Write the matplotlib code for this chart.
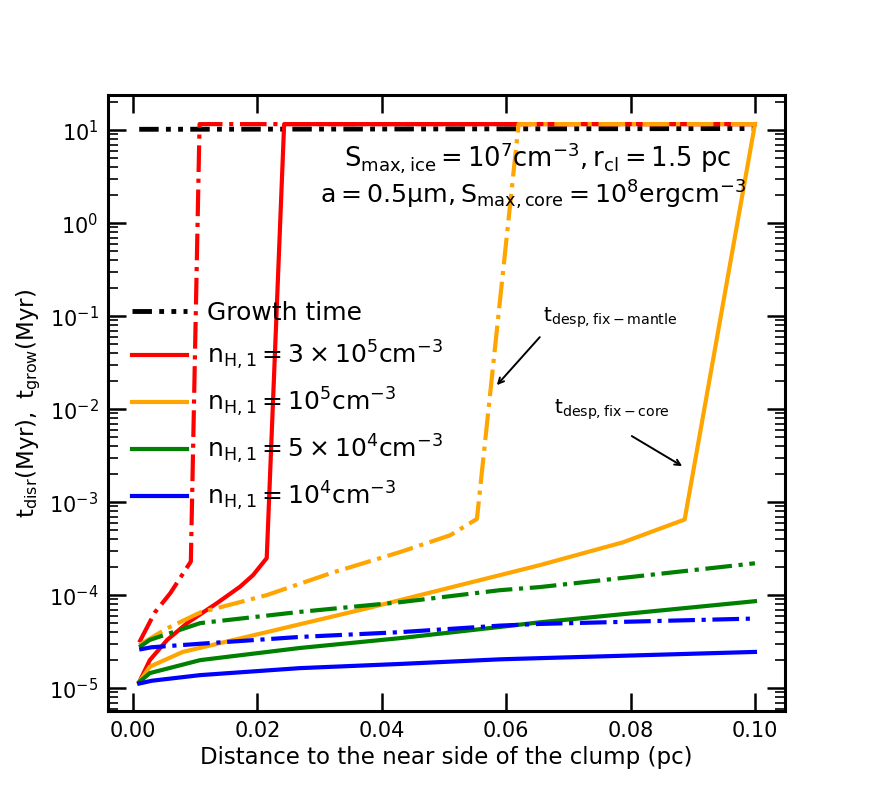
import matplotlib
matplotlib.use('Agg')
import matplotlib.pyplot as plt
import numpy as np

plt.rcParams['mathtext.default'] = 'regular'

# growth time
x_grow = [0.001, 0.1]
t_grow = [10.2, 10.4]

# n_H,1 = 3e5
x_red_mantle = [0.001, 0.0035, 0.006, 0.0093, 0.0107, 0.1]
t_red_mantle = [3.1e-5, 6.5e-5, 1.05e-4, 2.3e-4, 11.6, 11.6]
x_red_core = [0.001, 0.0027, 0.0055, 0.0087, 0.0135, 0.0172, 0.0193, 0.0215, 0.0243, 0.1]
t_red_core = [1.16e-5, 2.0e-5, 3.3e-5, 5.0e-5, 8.2e-5, 1.23e-4, 1.64e-4, 2.5e-4, 11.6, 11.6]

# n_H,1 = 1e5
x_orange_mantle = [0.001, 0.0055, 0.0108, 0.0215, 0.032, 0.0429, 0.051, 0.0553, 0.062, 0.1]
t_orange_mantle = [2.9e-5, 4.4e-5, 6.5e-5, 1.0e-4, 1.74e-4, 2.9e-4, 4.4e-4, 6.6e-4, 11.6, 11.6]
x_orange_core = [0.001, 0.0027, 0.008, 0.0215, 0.0376, 0.059, 0.0654, 0.0788, 0.0887, 0.1]
t_orange_core = [1.16e-5, 1.7e-5, 2.45e-5, 4.0e-5, 7.2e-5, 1.64e-4, 2.1e-4, 3.7e-4, 6.5e-4, 11.6]

# n_H,1 = 5e4
x_green = [0.001, 0.0027, 0.0108, 0.0268, 0.043, 0.059, 0.0654, 0.1]
t_green_mantle = [2.75e-5, 3.3e-5, 5.0e-5, 6.6e-5, 8.4e-5, 1.13e-4, 1.22e-4, 2.2e-4]
t_green_core = [1.16e-5, 1.45e-5, 2.0e-5, 2.7e-5, 3.45e-5, 4.55e-5, 5.1e-5, 8.6e-5]

# n_H,1 = 1e4
x_blue = [0.001, 0.003, 0.0108, 0.0268, 0.043, 0.059, 0.0654, 0.1]
t_blue_mantle = [2.6e-5, 2.75e-5, 3.0e-5, 3.55e-5, 4.0e-5, 4.7e-5, 4.9e-5, 5.6e-5]
t_blue_core = [1.12e-5, 1.2e-5, 1.38e-5, 1.64e-5, 1.82e-5, 2.04e-5, 2.1e-5, 2.45e-5]

labels = [r'Growth time',
          r'$n_{H,1} = 3 \times 10^5 cm^{-3}$',
          r'$n_{H,1} = 10^5 cm^{-3}$',
          r'$n_{H,1} = 5 \times 10^4 cm^{-3}$',
          r'$n_{H,1} = 10^4 cm^{-3}$']

fig = plt.figure(figsize=(8.72, 7.99), dpi=100)
ax = fig.add_axes([0.124, 0.110, 0.776, 0.771])

lw = 3
ax.plot(x_grow, t_grow, color='black', lw=3.5, dashes=[4, 1.5, 1, 1.5, 1, 1.5], label=labels[0])
ax.plot(x_red_core, t_red_core, color='red', lw=lw, label=labels[1])
ax.plot(x_orange_core, t_orange_core, color='orange', lw=lw, label=labels[2])
ax.plot(x_green, t_green_core, color='green', lw=lw, label=labels[3])
ax.plot(x_blue, t_blue_core, color='blue', lw=lw, label=labels[4])

ax.plot(x_red_mantle, t_red_mantle, color='red', lw=lw, ls='-.')
ax.plot(x_orange_mantle, t_orange_mantle, color='orange', lw=lw, ls='-.')
ax.plot(x_green, t_green_mantle, color='green', lw=lw, ls='-.')
ax.plot(x_blue, t_blue_mantle, color='blue', lw=lw, ls='-.')

ax.set_yscale('log')
ax.set_xlim(-0.004, 0.1048)
ax.set_ylim(5.66e-6, 23.8)
ax.set_xticks([0.0, 0.02, 0.04, 0.06, 0.08, 0.10])
ax.set_xticklabels(['0.00', '0.02', '0.04', '0.06', '0.08', '0.10'])

ax.tick_params(which='both', direction='in', top=True, right=True, labelsize=15, pad=7)
ax.tick_params(which='major', length=13, width=1.8)
ax.tick_params(which='minor', length=7, width=1.2)
for sp in ax.spines.values():
    sp.set_linewidth(2.2)

ax.set_xlabel('Distance to the near side of the clump (pc)', fontsize=16.5)
ax.set_ylabel(r'$t_{disr}(Myr),\ t_{grow}(Myr)$', fontsize=16.5)

ax.text(0.034, 5.1, r'$S_{max,ice} = 10^7 cm^{-3}, r_{cl} = 1.5$ pc', fontsize=18.5, va='center')
ax.text(0.030, 2.0, r'$a = 0.5\mu m, S_{max,core} = 10^8 erg cm^{-3}$', fontsize=18.2, va='center')

# arrow labels
ax.text(0.0768, 0.095, r'$t_{desp,fix-mantle}$', fontsize=14.5, ha='center', va='center')
ax.annotate('', xy=(0.0585, 0.0181), xytext=(0.0654, 0.0594),
            arrowprops=dict(arrowstyle='->', color='black', lw=1.4, shrinkA=0, shrinkB=0))
ax.text(0.077, 0.00975, r'$t_{desp,fix-core}$', fontsize=14.5, ha='center', va='center')
ax.annotate('', xy=(0.0883, 0.00244), xytext=(0.0802, 0.00513),
            arrowprops=dict(arrowstyle='->', color='black', lw=1.4, shrinkA=0, shrinkB=0))

ax.legend(loc='upper left', bbox_to_anchor=(0.01, 0.694), fontsize=18, frameon=False,
          handlelength=2.2, labelspacing=0.55, borderaxespad=0.3)

fig.savefig('out.png', dpi=100)
